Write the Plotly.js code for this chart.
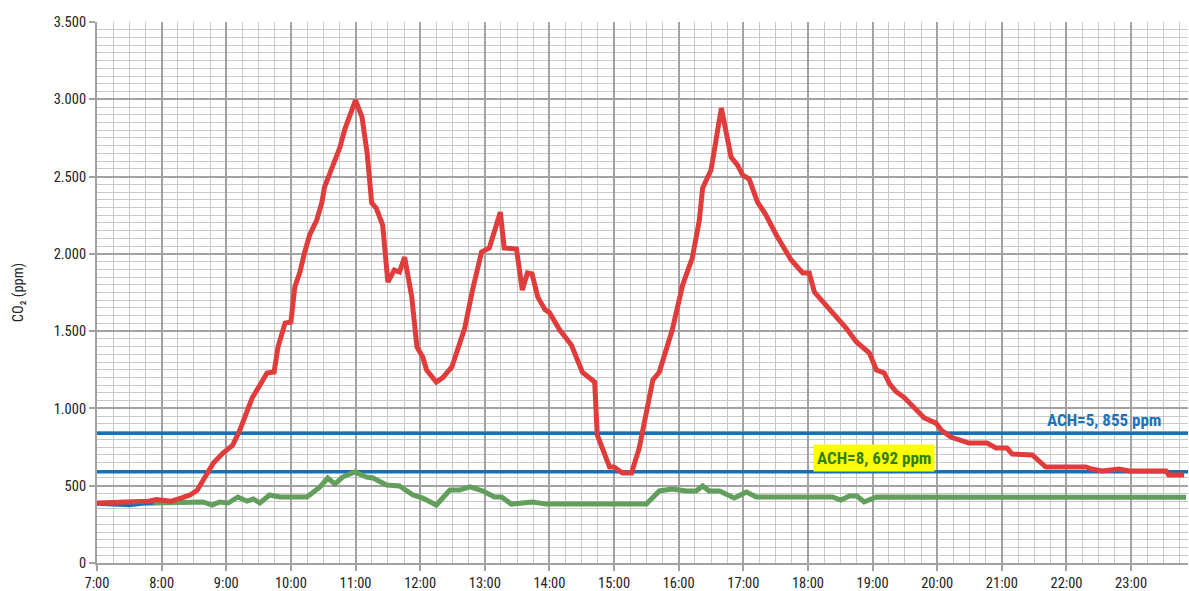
<!DOCTYPE html>
<html>
<head>
<meta charset="utf-8">
<script src="https://cdn.plot.ly/plotly-3.0.1.min.js"></script>
<style>
  html, body { margin: 0; padding: 0; background: #fff; }
  #chart { width: 1189px; height: 591px; }
</style>
</head>
<body>
<div id="chart"></div>
<script>
// Time in decimal hours, CO2 in ppm
const redHours = [7.0, 7.25, 7.5, 7.8, 7.92, 8.0, 8.15, 8.3, 8.44, 8.55, 8.64, 8.8, 8.95, 9.1, 9.21, 9.32, 9.40, 9.52, 9.63, 9.74, 9.80, 9.91, 10.0, 10.06, 10.14, 10.21, 10.29, 10.40, 10.48, 10.52, 10.68, 10.76, 10.83, 11.0, 11.1, 11.18, 11.25, 11.32, 11.42, 11.5, 11.6, 11.68, 11.76, 11.87, 11.95, 12.04, 12.1, 12.25, 12.35, 12.49, 12.69, 12.81, 12.95, 13.07, 13.24, 13.3, 13.49, 13.58, 13.66, 13.73, 13.82, 13.93, 14.0, 14.16, 14.34, 14.51, 14.7, 14.74, 14.93, 15.0, 15.13, 15.27, 15.39, 15.6, 15.7, 15.9, 16.06, 16.21, 16.32, 16.37, 16.5, 16.66, 16.81, 16.91, 16.99, 17.09, 17.22, 17.35, 17.51, 17.74, 17.92, 18.02, 18.1, 18.38, 18.59, 18.75, 18.95, 19.06, 19.18, 19.26, 19.36, 19.49, 19.61, 19.69, 19.80, 19.98, 20.06, 20.21, 20.49, 20.77, 20.91, 21.08, 21.16, 21.47, 21.68, 22.30, 22.39, 22.55, 22.70, 22.81, 22.97, 23.54, 23.58, 23.82];
const redPpm   = [388, 392, 395, 400, 410, 407, 400, 420, 440, 470, 537, 647, 711, 763, 860, 990, 1067, 1150, 1229, 1235, 1397, 1552, 1559, 1785, 1882, 2005, 2122, 2219, 2335, 2432, 2607, 2691, 2801, 2995, 2885, 2650, 2329, 2296, 2186, 1818, 1895, 1882, 1979, 1721, 1397, 1332, 1248, 1171, 1200, 1268, 1520, 1766, 2012, 2038, 2270, 2038, 2031, 1766, 1876, 1870, 1720, 1640, 1620, 1507, 1410, 1235, 1171, 828, 621, 621, 582, 582, 744, 1184, 1235, 1507, 1798, 1973, 2219, 2425, 2542, 2943, 2626, 2574, 2510, 2484, 2335, 2251, 2122, 1960, 1876, 1876, 1753, 1624, 1520, 1430, 1358, 1248, 1229, 1160, 1110, 1070, 1022, 980, 938, 905, 860, 815, 776, 776, 744, 744, 705, 699, 621, 621, 608, 595, 601, 608, 595, 595, 569, 569];

const greenHours = [7.87, 8.24, 8.48, 8.64, 8.78, 8.9, 9.03, 9.18, 9.32, 9.42, 9.52, 9.67, 9.83, 10.25, 10.45, 10.57, 10.68, 10.8, 10.99, 11.17, 11.27, 11.48, 11.68, 11.89, 12.04, 12.25, 12.46, 12.61, 12.77, 12.97, 13.15, 13.26, 13.41, 13.74, 13.95, 15.5, 15.7, 15.9, 16.12, 16.27, 16.37, 16.47, 16.63, 16.86, 17.05, 17.2, 18.38, 18.51, 18.64, 18.76, 18.87, 19.06, 23.85];
const greenPpm   = [388, 395, 400, 395, 375, 395, 388, 427, 400, 414, 388, 440, 427, 427, 492, 550, 511, 556, 589, 556, 550, 505, 498, 440, 420, 375, 472, 472, 492, 466, 427, 427, 381, 395, 381, 381, 466, 478, 466, 466, 498, 466, 466, 420, 459, 427, 427, 407, 433, 433, 395, 427, 425];

const blueHours = [7.0, 7.3, 7.5, 7.7, 7.9];
const bluePpm   = [385, 383, 375, 385, 388];

const ach5Level = 840;
const ach8Level = 590;
const ach5Label = "ACH=5, 855 ppm";
const ach8Label = "ACH=8, 692 ppm";

const xTickVals = [7, 8, 9, 10, 11, 12, 13, 14, 15, 16, 17, 18, 19, 20, 21, 22, 23];
const xTickText = ["7:00", "8:00", "9:00", "10:00", "11:00", "12:00", "13:00", "14:00", "15:00", "16:00", "17:00", "18:00", "19:00", "20:00", "21:00", "22:00", "23:00"];
const yTickVals = [0, 500, 1000, 1500, 2000, 2500, 3000, 3500];
const yTickText = ["0", "500", "1.000", "1.500", "2.000", "2.500", "3.000", "3.500"];

const X0 = 7, X1 = 23.88;
const FONT = "'Liberation Sans Narrow', 'Roboto Condensed', 'DejaVu Sans Condensed', 'Arial Narrow', sans-serif";

const traces = [
  { x: [X0, X1], y: [ach5Level, ach5Level], mode: 'lines', line: { color: '#1570b8', width: 3.5 }, hoverinfo: 'skip' },
  { x: [X0, X1], y: [ach8Level, ach8Level], mode: 'lines', line: { color: '#1570b8', width: 3.5 }, hoverinfo: 'skip' },
  { x: blueHours, y: bluePpm, mode: 'lines', line: { color: '#1570b8', width: 4.5 } },
  { x: greenHours, y: greenPpm, mode: 'lines', line: { color: '#629e5c', width: 5 } },
  { x: redHours, y: redPpm, mode: 'lines', line: { color: '#e03c3c', width: 5 } }
];

const layout = {
  width: 1189, height: 591,
  margin: { l: 97, r: 1, t: 22, b: 28, pad: 0 },
  paper_bgcolor: '#ffffff', plot_bgcolor: '#ffffff',
  showlegend: false,
  font: { family: FONT, size: 14, color: '#222' },
  xaxis: {
    range: [X0, X1], tickvals: xTickVals, ticktext: xTickText,
    showgrid: true, gridcolor: '#a2a2a2', gridwidth: 2,
    minor: { dtick: 0.25, tick0: 7, showgrid: true, gridcolor: '#c9c9c9', gridwidth: 1 },
    ticks: 'outside', ticklen: 6, tickcolor: '#a2a2a2', tickwidth: 2,
    showline: true, linecolor: '#a2a2a2', linewidth: 2,
    zeroline: false, tickfont: { family: FONT, size: 14.5, color: '#222' }
  },
  yaxis: {
    range: [0, 3500], tickvals: yTickVals, ticktext: yTickText,
    showgrid: true, gridcolor: '#a2a2a2', gridwidth: 2,
    minor: { dtick: 50, tick0: 0, showgrid: true, gridcolor: '#c9c9c9', gridwidth: 1 },
    ticks: 'outside', ticklen: 6, tickcolor: '#a2a2a2', tickwidth: 2,
    showline: true, linecolor: '#a2a2a2', linewidth: 2,
    zeroline: false, tickfont: { family: FONT, size: 14.5, color: '#222' },
    title: { text: 'CO₂ (ppm)', font: { family: FONT, size: 14.5, color: '#222' }, standoff: 27 }
  },
  annotations: [
    { x: 22.58, y: 925, xref: 'x', yref: 'y', text: '<b>' + ach5Label + '</b>', showarrow: false,
      font: { family: FONT, size: 17, color: '#1a72b8' } },
    { x: 19.02, y: 679, xref: 'x', yref: 'y', text: '<b>' + ach8Label + '</b>', showarrow: false,
      bgcolor: '#ffff00', borderpad: 3,
      font: { family: FONT, size: 17, color: '#2f7f12' } }
  ]
};

Plotly.newPlot('chart', traces, layout, { staticPlot: true, displayModeBar: false });
</script>
</body>
</html>
